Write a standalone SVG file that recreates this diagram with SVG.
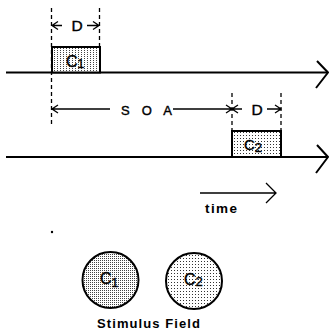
<svg xmlns="http://www.w3.org/2000/svg" width="329" height="335" viewBox="0 0 329 335">
<defs>
<pattern id="dense" width="2" height="2" patternUnits="userSpaceOnUse"><rect width="2" height="2" fill="#fff"/><rect x="0" y="0" width="1" height="1" fill="#444"/></pattern>
<pattern id="sparse" width="3" height="3" patternUnits="userSpaceOnUse"><rect width="3" height="3" fill="#fff"/><rect x="0" y="0" width="1" height="1" fill="#333"/></pattern>
<pattern id="boxdots" width="3" height="2" patternUnits="userSpaceOnUse"><rect width="3" height="2" fill="#fff"/><rect x="0" y="0" width="1" height="1" fill="#444"/></pattern>
</defs>
<style>
.axis{stroke:#000;stroke-width:2;fill:none}
.thin{stroke:#000;stroke-width:1.3;fill:none}
.dash{stroke:#000;stroke-width:1.3;stroke-dasharray:4 3;fill:none}
.box{stroke:#000;stroke-width:2}
.lbl{font-family:"Liberation Sans",Arial,sans-serif;fill:#000;stroke:#000;stroke-width:0.4}
.bold{font-family:"Liberation Sans",Arial,sans-serif;font-weight:bold;fill:#000}
</style>
<g id="connectors">
<path class="axis" d="M6 72.5H327"/>
<path class="axis" d="M317 61L328 72.5L316 88"/>
<path class="axis" d="M6 157H327"/>
<path class="axis" d="M317 145L328 157L316 173"/>
<path class="dash" d="M51.5 8V127"/>
<path class="dash" d="M99.5 8V47"/>
<path class="dash" d="M232 93V131"/>
<path class="dash" d="M281 93V131"/>
<path class="thin" d="M52 25.5H62M58 21.5L52 25.5L58 29.5"/>
<path class="thin" d="M87 25.5H99M93 21.5L99 25.5L93 29.5"/>
<path class="thin" d="M52 109H110M58 105L52 109L58 113"/>
<path class="thin" d="M173 109H232M226 105L232 109L226 113"/>
<path class="thin" d="M232 109H242M238 105L232 109L238 113"/>
<path class="thin" d="M267 109H281M275 105L281 109L275 113"/>
<path class="thin" d="M200 193H276M266 183L276 193L266 203"/>
<circle cx="52" cy="232" r="1.2" fill="#000"/>
</g>
<g id="C1box">
<rect class="box" x="52" y="47" width="48" height="25.5" fill="url(#boxdots)"/>
<text class="lbl" x="66" y="67" font-size="16">C<tspan font-size="12" dy="1">1</tspan></text>
</g>
<g id="C2box">
<rect class="box" x="232" y="131" width="49" height="26" fill="url(#sparse)"/>
<text class="lbl" x="244" y="150" font-size="15">C<tspan font-size="13" dy="2">2</tspan></text>
</g>
<g id="labels">
<text class="lbl" x="77" y="31" font-size="15.5" text-anchor="middle">D</text>
<text class="lbl" x="257" y="115" font-size="15.5" text-anchor="middle">D</text>
<text class="lbl" x="121" y="115" font-size="13" textLength="51" lengthAdjust="spacing">S O A</text>
<text class="bold" x="205" y="213" font-size="13.5" textLength="32" lengthAdjust="spacing">time</text>
</g>
<g id="C1circle">
<circle cx="110.5" cy="280" r="28" fill="url(#dense)" stroke="#000" stroke-width="2"/>
<text class="lbl" x="100" y="284" font-size="16">C<tspan font-size="12" dy="3">1</tspan></text>
</g>
<g id="C2circle">
<circle cx="194" cy="281" r="28" fill="url(#sparse)" stroke="#000" stroke-width="2"/>
<text class="lbl" x="184" y="285" font-size="16">C<tspan font-size="13" dy="1">2</tspan></text>
</g>
<g id="caption">
<text class="bold" x="97" y="328" font-size="13" textLength="103" lengthAdjust="spacing">Stimulus Field</text>
</g>
</svg>
